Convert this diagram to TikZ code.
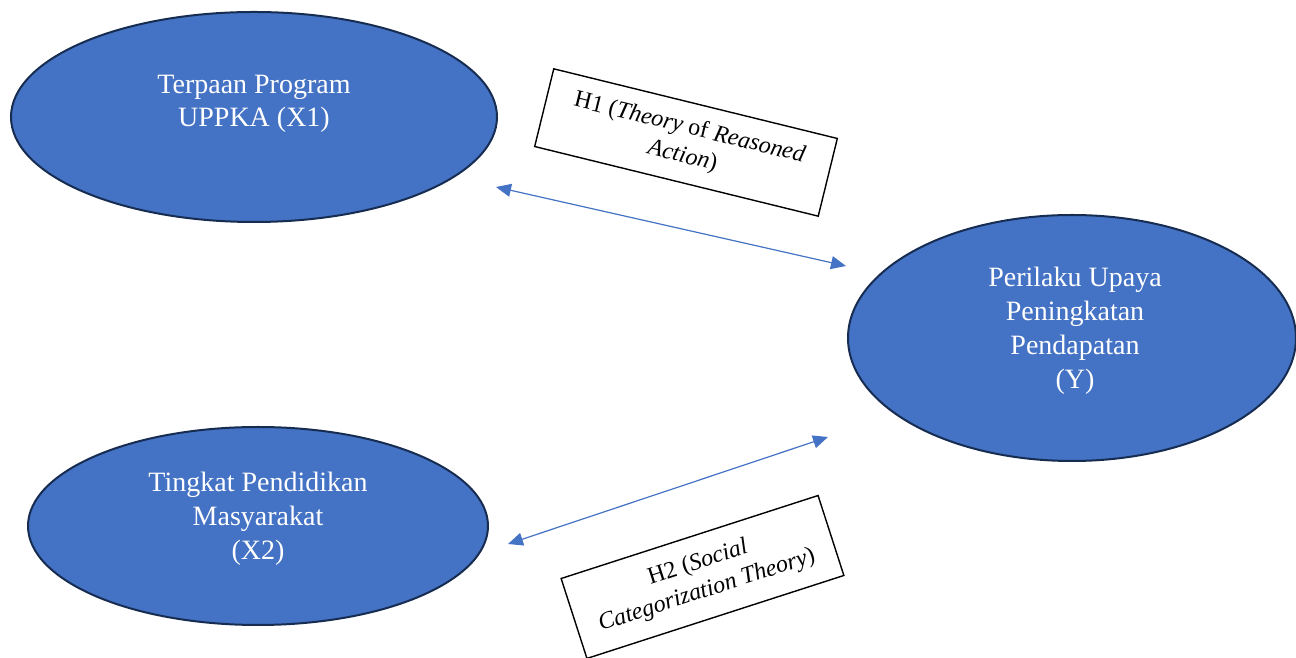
\documentclass[tikz,border=0pt]{standalone}
\usepackage{fontspec}
\setmainfont{Liberation Serif}
\usetikzlibrary{shapes.geometric,arrows.meta}
\definecolor{ellfill}{HTML}{4472C4}
\definecolor{elldraw}{HTML}{172C51}
\definecolor{arrcol}{HTML}{4472C4}
\tikzset{
  varell/.style={ellipse, draw=elldraw, line width=2pt, fill=ellfill, inner sep=0pt, text=white, align=center, font=\fontsize{28}{34}\selectfont},
  hypbox/.style={draw=black, line width=1.4pt, fill=white, inner sep=0pt, align=center, font=\fontsize{24}{29}\selectfont},
  relarrow/.style={draw=arrcol, line width=1.2pt, {Triangle[length=15pt,width=13pt]}-{Triangle[length=15pt,width=13pt]}}
}
\begin{document}
\begin{tikzpicture}[x=1pt,y=1pt]
\useasboundingbox (0,0) rectangle (1296,658);
% ellipses (y = 658 - pixel y)
\node[varell, minimum width=486pt, minimum height=210pt,
  label={[text=white, align=center, font=\fontsize{28}{33}\selectfont, yshift=13pt]center:Terpaan Program\\UPPKA (X1)}] (x1) at (254,541) {};
\node[varell, minimum width=460pt, minimum height=198pt,
  label={[text=white, align=center, font=\fontsize{28}{34}\selectfont, yshift=7pt]center:Tingkat Pendidikan\\Masyarakat\\(X2)}] (x2) at (258,132) {};
\node[varell, minimum width=448pt, minimum height=246pt,
  label={[text=white, align=center, font=\fontsize{28}{34}\selectfont, yshift=7pt, xshift=3pt]center:Perilaku Upaya\\Peningkatan\\Pendapatan\\(Y)}] (y) at (1072,320) {};
% hypothesis boxes
\node[hypbox, rotate=-13.8, minimum width=292pt, minimum height=80pt] (h1) at (686,515.5)
  {H1 (\textit{Theory} of \textit{Reasoned}\\\textit{Action})};
\node[hypbox, rotate=17.9, minimum width=270pt, minimum height=84pt] (h2) at (702.5,81)
  {H2 (\textit{Social}\\\textit{Categorization Theory})};
% arrows
\coordinate (h1a) at (496,471);
\coordinate (h1b) at (846,392);
\coordinate (h2a) at (508,114);
\coordinate (h2b) at (828,221);
\draw[relarrow] (h1a) -- (h1b);
\draw[relarrow] (h2a) -- (h2b);
\end{tikzpicture}
\end{document}
